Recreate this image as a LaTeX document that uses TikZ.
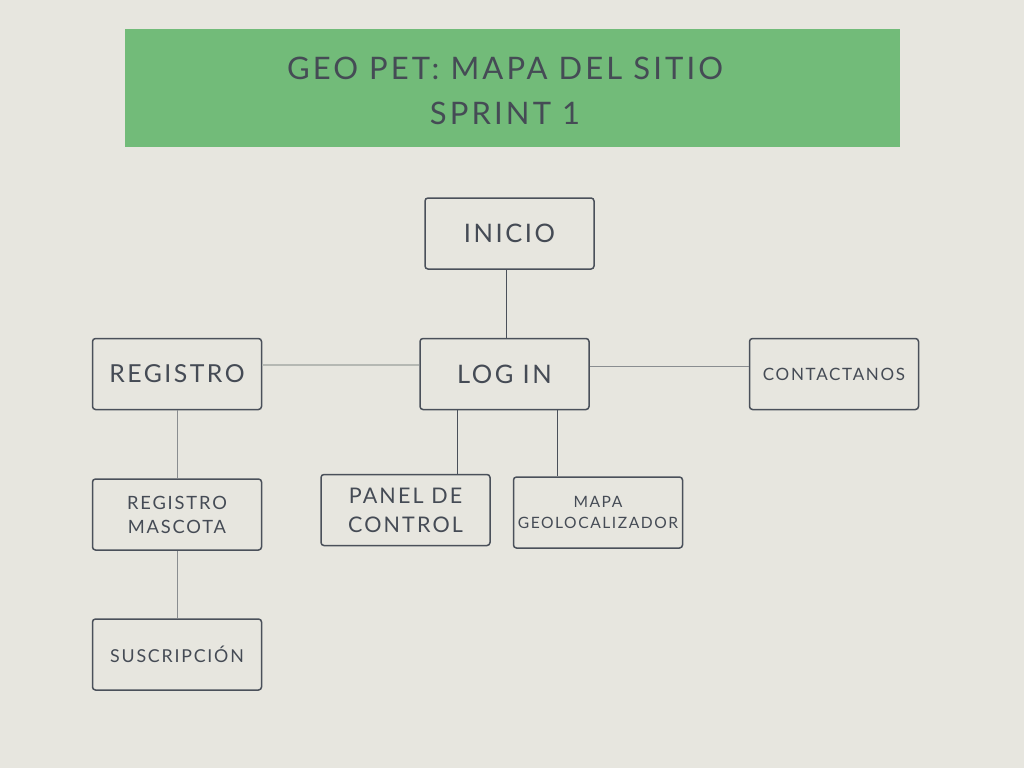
\documentclass[tikz,border=0pt]{standalone}
\usepackage{fontspec}
\setmainfont{Lato}
\newfontfamily\boxfont[LetterSpace=10]{Lato}
\newfontfamily\ttlfont[LetterSpace=10]{Lato}
\definecolor{bg}{HTML}{E7E6DF}
\definecolor{ttl}{HTML}{72BB79}
\definecolor{ink}{HTML}{454B55}
\definecolor{edge}{HTML}{4A505A}
\definecolor{lgray}{HTML}{B5B8B3}
\definecolor{mgray}{HTML}{8A8D90}
\tikzset{
  pg/.style={draw=edge, line width=1.5pt, rounded corners=3pt, text=ink, align=center, inner sep=0pt,
    minimum width=169pt, minimum height=71pt, font=\boxfont},
  dk/.style={draw=edge, line width=1pt},
  lt/.style={draw=lgray, line width=1.4pt},
  md/.style={draw=mgray, line width=1pt}
}
\begin{document}
\begin{tikzpicture}[x=1pt,y=-1pt]
\fill[bg] (0,0) rectangle (1024,768);
\useasboundingbox (0,0) rectangle (1024,768);
\node[fill=ttl, minimum width=775pt, minimum height=118pt, inner sep=0pt] (title) at (512.5,88) {};
\node[text=ink, align=center, inner sep=0pt, font=\ttlfont\fontsize{31}{45}\selectfont] (ttltext) at (505,91) {GEO PET: MAPA DEL SITIO\\SPRINT 1};
\node[pg, font=\boxfont\fontsize{25.5}{28}\selectfont] (inicio) at (509.5,233.5) {INICIO};
\node[pg, font=\boxfont\fontsize{25.5}{28}\selectfont] (login) at (504.5,374) {LOG IN};
\node[pg, font=\boxfont\fontsize{24.8}{28}\selectfont] (registro) at (177,374) {REGISTRO};
\node[pg, font=\boxfont\fontsize{17}{18}\selectfont] (contact) at (834,374) {CONTACTANOS};
\node[pg, font=\boxfont\fontsize{18.3}{24}\selectfont] (regmasc) at (177,514.5) {REGISTRO\\MASCOTA};
\node[pg, font=\boxfont\fontsize{21.5}{29}\selectfont] (panel) at (405.5,510) {PANEL DE\\CONTROL};
\node[pg, font=\boxfont\fontsize{15.6}{21}\selectfont] (mapa) at (598,512.5) {MAPA\\GEOLOCALIZADOR};
\node[pg, font=\boxfont\fontsize{17.8}{20}\selectfont] (susc) at (177,654.5) {SUSCRIPCIÓN};
\draw[dk] ([xshift=1.5pt]login.north) coordinate (c) -- (c |- inicio.south);
\draw[lt] ([yshift=9pt]registro.east) -- ([yshift=9pt]login.west);
\draw[md] ([yshift=8pt]login.east) -- ([yshift=8pt]contact.west);
\draw[dk] ([xshift=-47pt]login.south) coordinate (a) -- (a |- panel.north);
\draw[dk] ([xshift=52.5pt]login.south) coordinate (b) -- (b |- mapa.north);
\draw[md] (registro.south) -- (regmasc.north);
\draw[md] (regmasc.south) -- (susc.north);
\end{tikzpicture}
\end{document}
